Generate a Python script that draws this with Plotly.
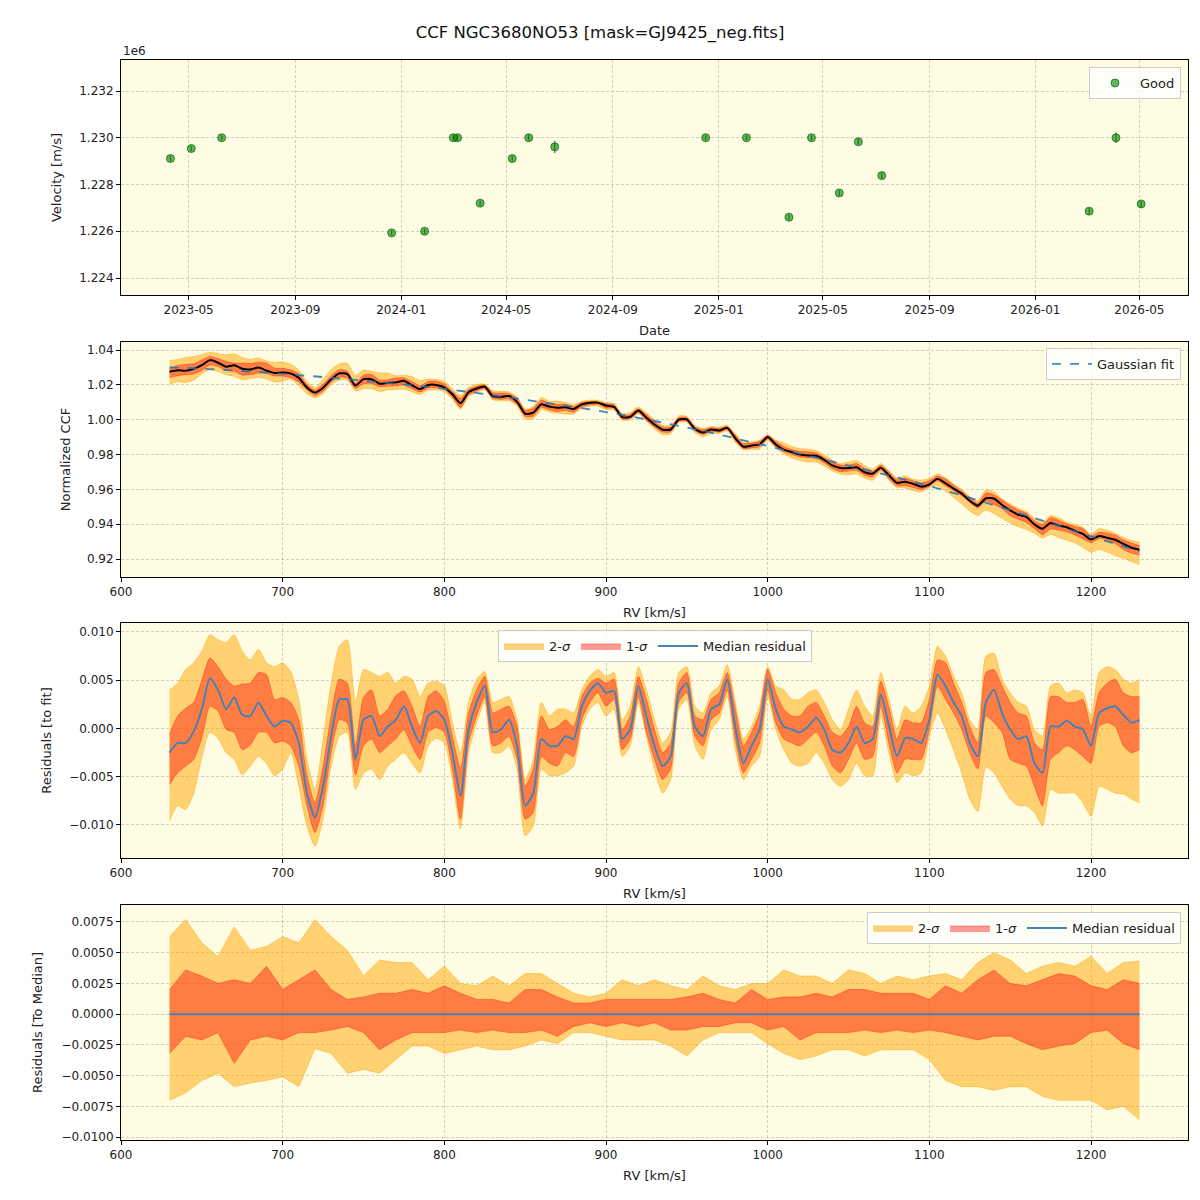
import numpy as np
import plotly.graph_objects as go

TITLE = "CCF NGC3680NO53 [mask=GJ9425_neg.fits]"

# ---------------- Panel 1: velocities ----------------
obs_dates = ["2023-04-10", "2023-05-04", "2023-06-08", "2023-12-21", "2024-01-28",
             "2024-03-01", "2024-03-06", "2024-04-01", "2024-05-08", "2024-05-27",
             "2024-06-26", "2024-12-17", "2025-02-02", "2025-03-23", "2025-04-18",
             "2025-05-20", "2025-06-11", "2025-07-08", "2026-03-04", "2026-04-04",
             "2026-05-03"]
obs_vel = [1229110, 1229540, 1230000, 1225930, 1226000,
           1230000, 1230000, 1227200, 1229110, 1230000,
           1229610, 1230000, 1230000, 1226600, 1230000,
           1227640, 1229830, 1228380, 1226860, 1230000,
           1227170]
obs_err = [110, 120, 110, 110, 110,
           120, 120, 120, 110, 130,
           260, 110, 110, 110, 110,
           110, 130, 120, 130, 220,
           140]

# ---------------- Panel 2: Gaussian fit ----------------
fit_rv = [630, 650, 700, 750, 800, 850, 900, 950, 1000, 1050, 1100, 1150, 1200, 1230]
fit_val = [1.0300, 1.0293, 1.0263, 1.0224, 1.0177, 1.0114, 1.0044, 0.9955,
           0.9849, 0.9737, 0.9619, 0.9480, 0.9330, 0.9245]

# ---------------- Panel 3: residuals to fit (5 km/s grid) ----------------
rv = list(range(630, 1231, 5))
res_med = [
    -0.0025, -0.0015, -0.0015, -0.0003, 0.0020, 0.0052, 0.0040, 0.0020, 0.0032, 0.0014,   # 630-675
    0.0013, 0.0027, 0.0013, 0.0002, 0.0008, 0.0006, -0.0015, -0.0067, -0.0092, -0.0060,   # 680-725
    -0.0008, 0.0030, 0.0030, -0.0032, 0.0009, 0.0013, -0.0008, 0.0002, 0.0009, 0.0023,    # 730-775
    0.0002, -0.0015, 0.0013, 0.0018, 0.0009, -0.0025, -0.0070, -0.0001, 0.0027, 0.0044,   # 780-825
    -0.0004, -0.0001, 0.0009, -0.0018, -0.0080, -0.0067, -0.0011, -0.0018, -0.0018, -0.0008,  # 830-875
    -0.0011, 0.0023, 0.0039, 0.0047, 0.0037, 0.0039, -0.0011, -0.0001, 0.0044, 0.0012,   # 880-925
    -0.0018, -0.0039, -0.0029, 0.0037, 0.0047, 0.0002, -0.0008, 0.0020, 0.0025, 0.0051,   # 930-975
    0.0002, -0.0036, -0.0018, -0.0001, 0.0051, 0.0020, 0.0002, -0.0001, -0.0004, 0.0002,  # 980-1025
    0.0011, -0.0001, -0.0022, -0.0025, -0.0015, 0.0002, -0.0015, -0.0011, 0.0035, 0.0003, # 1030-1075
    -0.0029, -0.0010, -0.0011, -0.0015, 0.0009, 0.0056, 0.0044, 0.0027, 0.0013, -0.0015,  # 1080-1125
    -0.0029, 0.0027, 0.0040, 0.0016, -0.0001, -0.0011, -0.0008, -0.0036, -0.0046, 0.0002, # 1130-1175
    0.0002, 0.0008, 0.0002, -0.0001, -0.0018, 0.0016, 0.0021, 0.0023, 0.0014, 0.0006,     # 1180-1225
    0.0009]                                                                              # 1230
res_s1_hi = [
    -0.0006, 0.0013, 0.0021, 0.0027, 0.0050, 0.0073, 0.0064, 0.0051, 0.0044, 0.0046,
    0.0047, 0.0058, 0.0056, 0.0030, 0.0032, 0.0027, 0.0009, -0.0049, -0.0077, -0.0039,
    0.0013, 0.0051, 0.0047, -0.0018, 0.0032, 0.0040, 0.0013, 0.0020, 0.0034, 0.0039,
    0.0023, 0.0002, 0.0033, 0.0039, 0.0028, -0.0008, -0.0042, 0.0016, 0.0040, 0.0054,
    0.0016, 0.0020, 0.0023, 0.0002, -0.0060, -0.0042, 0.0013, -0.0001, 0.0002, 0.0009,
    0.0002, 0.0033, 0.0047, 0.0052, 0.0047, 0.0051, -0.0001, 0.0013, 0.0054, 0.0030,
    -0.0001, -0.0025, -0.0015, 0.0047, 0.0058, 0.0013, 0.0009, 0.0030, 0.0037, 0.0058,
    0.0020, -0.0018, -0.0004, 0.0016, 0.0061, 0.0037, 0.0020, 0.0013, 0.0013, 0.0023,
    0.0027, 0.0013, -0.0004, -0.0008, 0.0002, 0.0023, 0.0006, 0.0002, 0.0049, 0.0022,
    -0.0011, 0.0009, 0.0006, 0.0006, 0.0030, 0.0071, 0.0068, 0.0047, 0.0027, 0.0002,
    -0.0015, 0.0058, 0.0061, 0.0044, 0.0027, 0.0016, 0.0013, -0.0015, -0.0022, 0.0033,
    0.0033, 0.0027, 0.0027, 0.0030, 0.0002, 0.0037, 0.0047, 0.0051, 0.0037, 0.0033,
    0.0033]
res_s1_lo = [
    -0.0058, -0.0046, -0.0039, -0.0032, -0.0010, 0.0023, 0.0018, -0.0001, -0.0004, -0.0022,
    -0.0017, -0.0004, -0.0004, -0.0015, -0.0013, -0.0018, -0.0039, -0.0080, -0.0108, -0.0080,
    -0.0025, 0.0009, 0.0006, -0.0048, -0.0018, -0.0011, -0.0025, -0.0018, -0.0011, -0.0001,
    -0.0018, -0.0032, -0.0004, 0.0001, -0.0004, -0.0042, -0.0094, -0.0015, 0.0013, 0.0033,
    -0.0018, -0.0015, -0.0008, -0.0032, -0.0094, -0.0087, -0.0029, -0.0036, -0.0039, -0.0025,
    -0.0029, 0.0009, 0.0027, 0.0037, 0.0023, 0.0030, -0.0022, -0.0011, 0.0033, -0.0004,
    -0.0032, -0.0053, -0.0042, 0.0027, 0.0037, -0.0008, -0.0018, 0.0009, 0.0016, 0.0040,
    -0.0011, -0.0046, -0.0032, -0.0015, 0.0040, 0.0006, -0.0011, -0.0015, -0.0018, -0.0011,
    -0.0004, -0.0018, -0.0039, -0.0046, -0.0032, -0.0015, -0.0032, -0.0029, 0.0023, -0.0015,
    -0.0046, -0.0032, -0.0032, -0.0032, -0.0001, 0.0044, 0.0030, 0.0016, -0.0001, -0.0025,
    -0.0042, 0.0013, 0.0006, -0.0004, -0.0032, -0.0036, -0.0039, -0.0060, -0.0080, -0.0032,
    -0.0025, -0.0018, -0.0022, -0.0029, -0.0036, 0.0002, 0.0006, 0.0002, -0.0018, -0.0025,
    -0.0022]
res_s2_hi = [
    0.0040, 0.0047, 0.0061, 0.0068, 0.0080, 0.0097, 0.0092, 0.0089, 0.0097, 0.0080,
    0.0071, 0.0082, 0.0068, 0.0064, 0.0068, 0.0059, 0.0030, -0.0032, -0.0063, -0.0011,
    0.0047, 0.0085, 0.0092, 0.0027, 0.0061, 0.0058, 0.0054, 0.0058, 0.0047, 0.0054,
    0.0051, 0.0033, 0.0047, 0.0049, 0.0044, 0.0006, -0.0025, 0.0027, 0.0051, 0.0059,
    0.0027, 0.0030, 0.0033, 0.0009, -0.0053, -0.0032, 0.0027, 0.0013, 0.0020, 0.0020,
    0.0016, 0.0040, 0.0054, 0.0061, 0.0054, 0.0058, 0.0009, 0.0023, 0.0064, 0.0040,
    0.0009, -0.0015, -0.0004, 0.0058, 0.0064, 0.0023, 0.0016, 0.0037, 0.0044, 0.0066,
    0.0027, -0.0011, 0.0002, 0.0023, 0.0064, 0.0044, 0.0040, 0.0030, 0.0030, 0.0037,
    0.0040, 0.0027, 0.0009, -0.0001, 0.0020, 0.0040, 0.0023, 0.0013, 0.0058, 0.0030,
    -0.0001, 0.0023, 0.0016, 0.0023, 0.0044, 0.0085, 0.0075, 0.0054, 0.0037, 0.0009,
    -0.0001, 0.0075, 0.0078, 0.0051, 0.0037, 0.0027, 0.0023, -0.0001, -0.0008, 0.0044,
    0.0047, 0.0037, 0.0040, 0.0037, 0.0013, 0.0058, 0.0064, 0.0061, 0.0051, 0.0047,
    0.0051]
res_s2_lo = [
    -0.0096, -0.0080, -0.0084, -0.0067, -0.0030, -0.0004, -0.0010, -0.0025, -0.0032, -0.0048,
    -0.0039, -0.0029, -0.0036, -0.0049, -0.0042, -0.0025, -0.0060, -0.0101, -0.0122, -0.0094,
    -0.0039, -0.0008, -0.0004, -0.0063, -0.0046, -0.0042, -0.0053, -0.0039, -0.0032, -0.0025,
    -0.0036, -0.0046, -0.0018, -0.0010, -0.0015, -0.0053, -0.0104, -0.0025, 0.0006, 0.0027,
    -0.0025, -0.0025, -0.0018, -0.0042, -0.0111, -0.0101, -0.0042, -0.0049, -0.0049, -0.0046,
    -0.0039, 0.0002, 0.0020, 0.0027, 0.0013, 0.0020, -0.0029, -0.0018, 0.0027, -0.0008,
    -0.0042, -0.0067, -0.0053, 0.0020, 0.0030, -0.0018, -0.0032, -0.0001, 0.0009, 0.0033,
    -0.0022, -0.0053, -0.0039, -0.0029, 0.0033, -0.0001, -0.0022, -0.0036, -0.0039, -0.0036,
    -0.0025, -0.0036, -0.0053, -0.0060, -0.0053, -0.0036, -0.0049, -0.0049, 0.0013, -0.0025,
    -0.0056, -0.0046, -0.0049, -0.0046, -0.0008, 0.0016, -0.0001, -0.0022, -0.0046, -0.0073,
    -0.0086, -0.0040, -0.0046, -0.0060, -0.0073, -0.0080, -0.0080, -0.0087, -0.0101, -0.0063,
    -0.0067, -0.0067, -0.0067, -0.0077, -0.0091, -0.0060, -0.0063, -0.0067, -0.0068, -0.0073,
    -0.0077]

# ---------------- Panel 4: residuals to median (10 km/s grid) ----------------
rv4 = list(range(630, 1231, 10))
med_s2_hi = [0.0063, 0.0077, 0.0058, 0.0047, 0.0071, 0.0052, 0.0055, 0.0063, 0.0058, 0.0077,
             0.0063, 0.0052, 0.0031, 0.0044, 0.0042, 0.0042, 0.0028, 0.0039, 0.0025, 0.0023,
             0.0031, 0.0023, 0.0033, 0.0033, 0.0025, 0.0017, 0.0014, 0.0017, 0.0028, 0.0023,
             0.0028, 0.0023, 0.0020, 0.0031, 0.0023, 0.0020, 0.0025, 0.0025, 0.0036, 0.0031,
             0.0031, 0.0025, 0.0036, 0.0033, 0.0025, 0.0031, 0.0028, 0.0031, 0.0033, 0.0028,
             0.0042, 0.0050, 0.0044, 0.0033, 0.0039, 0.0042, 0.0039, 0.0047, 0.0033, 0.0042,
             0.0043]
med_s1_hi = [0.0020, 0.0036, 0.0031, 0.0025, 0.0028, 0.0025, 0.0039, 0.0020, 0.0028, 0.0036,
             0.0020, 0.0012, 0.0014, 0.0017, 0.0017, 0.0020, 0.0017, 0.0023, 0.0017, 0.0012,
             0.0012, 0.0009, 0.0020, 0.0020, 0.0014, 0.0009, 0.0009, 0.0012, 0.0012, 0.0012,
             0.0012, 0.0012, 0.0014, 0.0017, 0.0012, 0.0009, 0.0020, 0.0012, 0.0014, 0.0014,
             0.0017, 0.0014, 0.0020, 0.0020, 0.0017, 0.0017, 0.0017, 0.0012, 0.0023, 0.0017,
             0.0028, 0.0036, 0.0025, 0.0023, 0.0028, 0.0033, 0.0031, 0.0023, 0.0020, 0.0028,
             0.0025]
med_s1_lo = [-0.0032, -0.0018, -0.0021, -0.0015, -0.0040, -0.0021, -0.0018, -0.0021, -0.0015, -0.0015,
             -0.0013, -0.0010, -0.0015, -0.0029, -0.0021, -0.0015, -0.0015, -0.0015, -0.0013, -0.0015,
             -0.0013, -0.0015, -0.0015, -0.0013, -0.0018, -0.0010, -0.0007, -0.0010, -0.0007, -0.0010,
             -0.0007, -0.0013, -0.0013, -0.0010, -0.0010, -0.0007, -0.0007, -0.0013, -0.0010, -0.0021,
             -0.0015, -0.0015, -0.0015, -0.0013, -0.0015, -0.0013, -0.0015, -0.0013, -0.0015, -0.0018,
             -0.0021, -0.0018, -0.0018, -0.0024, -0.0029, -0.0026, -0.0024, -0.0015, -0.0013, -0.0024,
             -0.0029]
med_s2_lo = [-0.0070, -0.0064, -0.0054, -0.0048, -0.0059, -0.0056, -0.0054, -0.0051, -0.0059, -0.0028,
             -0.0032, -0.0048, -0.0045, -0.0048, -0.0037, -0.0026, -0.0026, -0.0032, -0.0029, -0.0026,
             -0.0029, -0.0029, -0.0026, -0.0021, -0.0024, -0.0015, -0.0015, -0.0018, -0.0021, -0.0021,
             -0.0021, -0.0026, -0.0034, -0.0021, -0.0015, -0.0015, -0.0015, -0.0024, -0.0032, -0.0037,
             -0.0034, -0.0029, -0.0029, -0.0034, -0.0029, -0.0029, -0.0029, -0.0037, -0.0054, -0.0059,
             -0.0059, -0.0062, -0.0059, -0.0059, -0.0067, -0.0070, -0.0070, -0.0070, -0.0078, -0.0075,
             -0.0086]

# ---------------- derived series ----------------
rv_a = np.array(rv, dtype=float)
fit_on_rv = np.interp(rv_a, fit_rv, fit_val)
ccf = fit_on_rv + np.array(res_med)
ccf_s1_hi = fit_on_rv + np.array(res_s1_hi)
ccf_s1_lo = fit_on_rv + np.array(res_s1_lo)
ccf_s2_hi = fit_on_rv + np.array(res_s2_hi)
ccf_s2_lo = fit_on_rv + np.array(res_s2_lo)
med_zero = [0.0] * len(rv4)

# ---------------- styles ----------------
FONT = "DejaVu Sans, Verdana, sans-serif"
BG = "#FEFCE3"
C2_FILL = "rgba(255,165,0,0.5)"
C2_LINE = "rgba(255,165,0,0.45)"
C1_FILL = "rgba(255,0,0,0.4)"
C1_LINE = "rgba(255,0,0,0.35)"
MED_COL = "#4682B4"
SIG2 = "2-<i>σ</i>"
SIG1 = "1-<i>σ</i>"

fig = go.Figure()


def add_band(x, lo, hi, fill, line, name, xa, ya, legend, show, shape="linear"):
    fig.add_trace(go.Scatter(x=x, y=lo, mode="lines", line=dict(color=line, width=1, shape=shape, smoothing=0.6),
                             xaxis=xa, yaxis=ya, showlegend=False, hoverinfo="skip"))
    fig.add_trace(go.Scatter(x=x, y=hi, mode="lines", line=dict(color=line, width=1, shape=shape, smoothing=0.6),
                             fill="tonexty", fillcolor=fill, name=name,
                             xaxis=xa, yaxis=ya, showlegend=show, legend=legend))


# Panel 1
fig.add_trace(go.Scatter(
    x=obs_dates, y=obs_vel, mode="markers", name="Good",
    marker=dict(color="rgba(0,128,0,0.6)", size=8, line=dict(color="rgba(0,100,0,0.7)", width=1)),
    error_y=dict(type="data", array=obs_err, color="rgba(0,90,0,0.8)", thickness=1.2, width=0),
    xaxis="x", yaxis="y", legend="legend"))

# Panel 2
add_band(rv, ccf_s2_lo, ccf_s2_hi, C2_FILL, C2_LINE, SIG2, "x2", "y2", "legend2", False, "spline")
add_band(rv, ccf_s1_lo, ccf_s1_hi, C1_FILL, C1_LINE, SIG1, "x2", "y2", "legend2", False, "spline")
fig.add_trace(go.Scatter(x=rv, y=ccf, mode="lines",
                         line=dict(color="black", width=2, shape="spline", smoothing=0.6),
                         xaxis="x2", yaxis="y2", showlegend=False))
fig.add_trace(go.Scatter(x=fit_rv, y=fit_val, mode="lines", name="Gaussian fit",
                         line=dict(color="rgba(31,119,180,0.85)", width=1.8, dash="dash", shape="spline"),
                         xaxis="x2", yaxis="y2", legend="legend2"))

# Panel 3
add_band(rv, res_s2_lo, res_s2_hi, C2_FILL, C2_LINE, SIG2, "x3", "y3", "legend3", True, "spline")
add_band(rv, res_s1_lo, res_s1_hi, C1_FILL, C1_LINE, SIG1, "x3", "y3", "legend3", True, "spline")
fig.add_trace(go.Scatter(x=rv, y=res_med, mode="lines", name="Median residual",
                         line=dict(color=MED_COL, width=2, shape="spline", smoothing=0.6),
                         xaxis="x3", yaxis="y3", legend="legend3"))

# Panel 4
add_band(rv4, med_s2_lo, med_s2_hi, C2_FILL, C2_LINE, SIG2, "x4", "y4", "legend4", True)
add_band(rv4, med_s1_lo, med_s1_hi, C1_FILL, C1_LINE, SIG1, "x4", "y4", "legend4", True)
fig.add_trace(go.Scatter(x=rv4, y=med_zero, mode="lines", name="Median residual",
                         line=dict(color=MED_COL, width=2), xaxis="x4", yaxis="y4", legend="legend4"))

XDOM = [121 / 1200, 1188 / 1200]
GRID = dict(showgrid=True, gridcolor="rgba(176,176,176,0.6)", griddash="3px,2px", gridwidth=1)
AX = dict(showline=True, linecolor="black", linewidth=1, mirror=True, ticks="outside",
          ticklen=4, tickcolor="black", zeroline=False, automargin=False,
          tickfont=dict(size=12, color="#222"), title_font=dict(size=13, color="#222"), **GRID)


def ydom(top, bot):
    return [1 - bot / 1200, 1 - top / 1200]


LEG = dict(bgcolor="rgba(255,255,255,0.8)", bordercolor="#ccc", borderwidth=1,
           font=dict(size=13), traceorder="normal", itemwidth=40)

layout = dict(
    width=1200, height=1200, margin=dict(l=0, r=0, t=0, b=0),
    paper_bgcolor="white", plot_bgcolor=BG,
    font=dict(family=FONT, size=12, color="#222"),
    title=dict(text=TITLE, x=0.5, xanchor="center", y=1 - 32 / 1200, yanchor="middle",
               font=dict(size=16.5, color="#111")),
    xaxis=dict(domain=XDOM, anchor="y", type="date", range=["2023-02-12", "2026-06-26"],
               dtick="M4", tick0="2023-01-01", tickformat="%Y-%m",
               title=dict(text="Date", standoff=9), **AX),
    yaxis=dict(domain=ydom(60, 295), anchor="x", range=[1223273, 1233326],
               tickvals=[1224000, 1226000, 1228000, 1230000, 1232000],
               ticktext=["1.224", "1.226", "1.228", "1.230", "1.232"],
               title=dict(text="Velocity [m/s]", standoff=14), **AX),
    xaxis2=dict(domain=XDOM, anchor="y2", range=[600, 1260], dtick=100,
                title=dict(text="RV [km/s]", standoff=9), **AX),
    yaxis2=dict(domain=ydom(342, 577), anchor="x2", range=[0.9097, 1.0446], dtick=0.02,
                tickformat=".2f", title=dict(text="Normalized CCF", standoff=13), **AX),
    xaxis3=dict(domain=XDOM, anchor="y3", range=[600, 1260], dtick=100,
                title=dict(text="RV [km/s]", standoff=9), **AX),
    yaxis3=dict(domain=ydom(623, 858), anchor="x3", range=[-0.01342, 0.01093], dtick=0.005,
                tickformat=".3f", title=dict(text="Residuals [to fit]", standoff=14), **AX),
    xaxis4=dict(domain=XDOM, anchor="y4", range=[600, 1260], dtick=100,
                title=dict(text="RV [km/s]", standoff=9), **AX),
    yaxis4=dict(domain=ydom(905, 1140), anchor="x4", range=[-0.01024, 0.00888], dtick=0.0025,
                tickformat=".4f", title=dict(text="Residuals [To Median]", standoff=16), **AX),
    legend=dict(x=1181 / 1200, y=1 - 67 / 1200, xanchor="right", yanchor="top", **LEG),
    legend2=dict(x=1181 / 1200, y=1 - 348 / 1200, xanchor="right", yanchor="top", **LEG),
    legend3=dict(x=655 / 1200, y=1 - 630 / 1200, xanchor="center", yanchor="top",
                 orientation="h", **LEG),
    legend4=dict(x=1181 / 1200, y=1 - 912 / 1200, xanchor="right", yanchor="top",
                 orientation="h", **LEG),
    annotations=[dict(text="1e6", x=121 / 1200, y=1 - 51 / 1200, xref="paper", yref="paper",
                      xanchor="left", yanchor="middle", showarrow=False, font=dict(size=12))],
)
fig.update_layout(**layout)

fig.write_html("out.html")
